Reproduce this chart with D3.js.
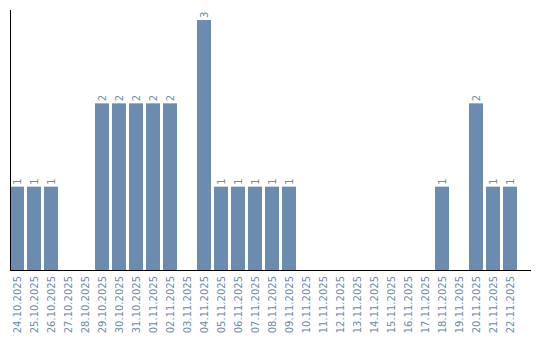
<!DOCTYPE html>
<html><head><meta charset="utf-8">
<script src="https://cdn.jsdelivr.net/npm/d3@7"></script>
<style>body{margin:0;background:#fff;}svg{display:block;}text{font-family:"DejaVu Sans",sans-serif;}</style>
</head><body>
<svg id="c" width="540" height="340"></svg>
<script>
const dates = ["24.10.2025","25.10.2025","26.10.2025","27.10.2025","28.10.2025","29.10.2025","30.10.2025","31.10.2025","01.11.2025","02.11.2025","03.11.2025","04.11.2025","05.11.2025","06.11.2025","07.11.2025","08.11.2025","09.11.2025","10.11.2025","11.11.2025","12.11.2025","13.11.2025","14.11.2025","15.11.2025","16.11.2025","17.11.2025","18.11.2025","19.11.2025","20.11.2025","21.11.2025","22.11.2025"];
const counts = [1,1,1,0,0,2,2,2,2,2,0,3,1,1,1,1,1,0,0,0,0,0,0,0,0,1,0,2,1,1];

const color = "#6b8cae";
const svg = d3.select("#c");
const x = d3.scaleBand().domain(dates).range([10, 517]).paddingInner(3/17).paddingOuter(0);
const y = d3.scaleLinear().domain([0, 3]).range([270, 20]);
const data = dates.map((d,i)=>({d, v: counts[i]}));

svg.selectAll("rect.bar").data(data.filter(e=>e.v>0)).join("rect")
  .attr("class","bar")
  .attr("x", e=>x(e.d)).attr("width", x.bandwidth())
  .attr("y", e=>y(e.v)).attr("height", e=>y(0)-y(e.v))
  .attr("fill", color);

svg.selectAll("text.val").data(data.filter(e=>e.v>0)).join("text")
  .attr("class","val")
  .attr("transform", e=>`translate(${x(e.d)+x.bandwidth()/2+3.5},${y(e.v)-2}) rotate(-90)`)
  .attr("font-size", 10).attr("fill", color)
  .text(e=>e.v);

// x axis
const xAxis = svg.append("g").attr("transform","translate(0,270)")
  .call(d3.axisBottom(x).tickSize(0).tickPadding(0));
xAxis.select(".domain").remove();
xAxis.selectAll("text")
  .attr("font-size", 10).attr("fill", color)
  .attr("font-family", "DejaVu Sans")
  .attr("text-anchor","end")
  .attr("dy", null).attr("y", 0).attr("x", 0)
  .attr("transform","translate(3.5,6) rotate(-90)");

svg.append("line").attr("x1",10).attr("x2",531).attr("y1",270.5).attr("y2",270.5).attr("stroke","#000");
svg.append("line").attr("x1",10.5).attr("x2",10.5).attr("y1",10).attr("y2",270).attr("stroke","#000");
</script>
</body></html>
